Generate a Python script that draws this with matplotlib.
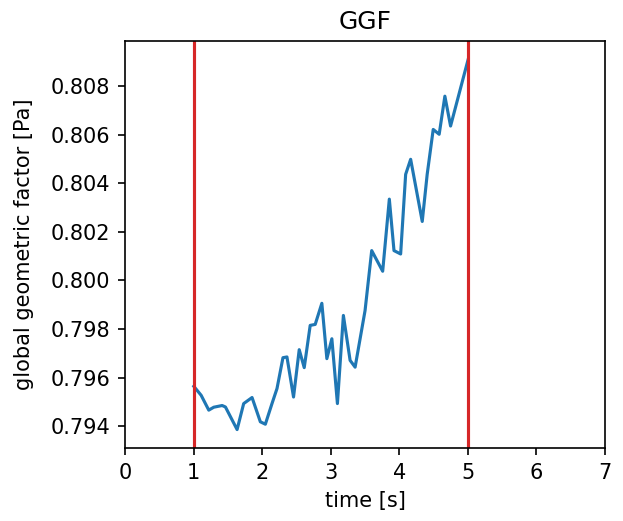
import numpy as np
import matplotlib.pyplot as plt

# time samples and geometric factor
t = [1.004, 1.111, 1.222, 1.295, 1.417, 1.465, 1.635, 1.731, 1.853, 1.974,
     2.047, 2.144, 2.217, 2.304, 2.362, 2.458, 2.541, 2.614, 2.701, 2.774,
     2.871, 2.944, 3.017, 3.098, 3.185, 3.283, 3.356, 3.501, 3.598, 3.758,
     3.855, 3.923, 4.020, 4.093, 4.166, 4.335, 4.407, 4.495, 4.582, 4.665,
     4.748, 5.004]
ggf = [0.79564, 0.79527, 0.79466, 0.79478, 0.79485, 0.79479, 0.79386, 0.79493,
       0.79518, 0.79418, 0.79408, 0.79493, 0.79555, 0.79682, 0.79685, 0.79520,
       0.79715, 0.79641, 0.79815, 0.79819, 0.79906, 0.79678, 0.79760, 0.79493,
       0.79856, 0.79671, 0.79643, 0.79876, 0.80123, 0.80038, 0.80335, 0.80123,
       0.80109, 0.80437, 0.80499, 0.80243, 0.80437, 0.80622, 0.80602, 0.80759,
       0.80636, 0.80910]
t_start = 1
t_end = 5

dpi = 150
fig = plt.figure(figsize=(623 / dpi, 521 / dpi), dpi=dpi)
ax = fig.add_axes([0.2006, 0.140, 0.7705, 0.7813])
ax.plot(t, ggf, 'C0')
ax.axvline(t_start, color='C3')
ax.axvline(t_end, color='C3')
ax.set_xlim(0, 7)
ax.set_title('GGF')
ax.set_xlabel('time [s]')
ax.set_ylabel('global geometric factor [Pa]', labelpad=8)
fig.savefig('out.png', dpi=dpi)
